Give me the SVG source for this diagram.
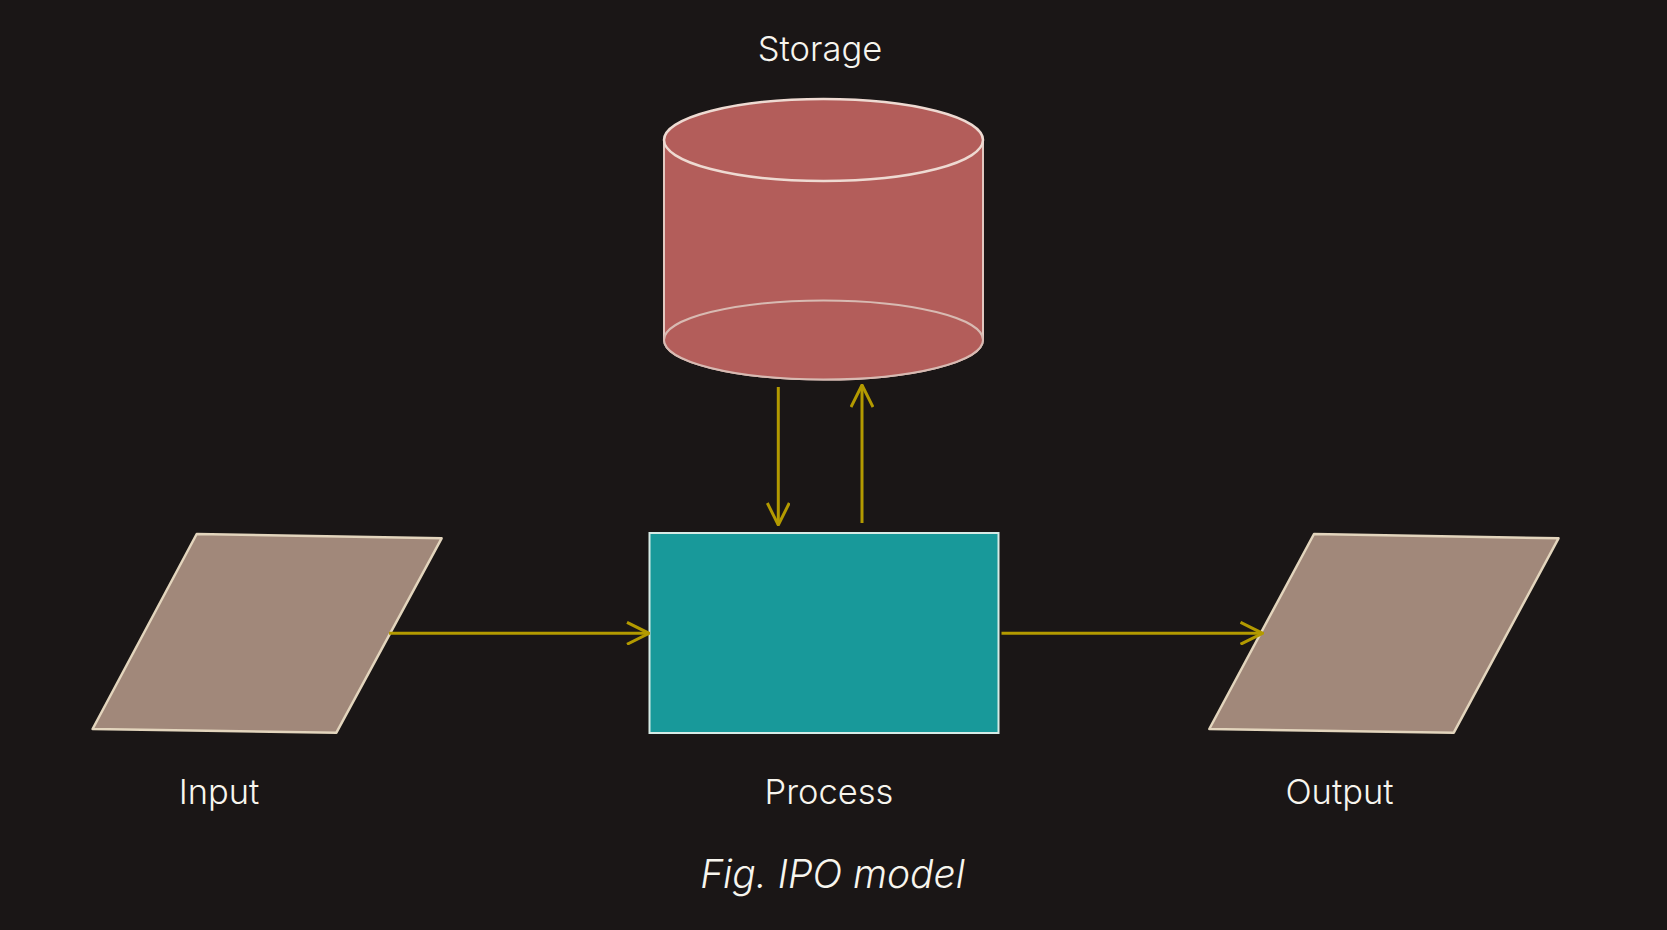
<svg xmlns="http://www.w3.org/2000/svg" width="1667" height="930" viewBox="0 0 1667 930">
<defs>
<style>
.lbl{font-family:Inter,"Noto Sans","Liberation Sans",sans-serif;font-size:34.5px;font-weight:300;fill:#f7f5ee;text-anchor:middle}
.cap{font-family:Inter,"Noto Sans","Liberation Sans",sans-serif;font-size:39px;font-weight:300;font-style:italic;fill:#f7f5ee;text-anchor:middle}
.para{fill:#a1887a;stroke:#e3d5bd;stroke-width:2.5;stroke-linejoin:round}
.conn{stroke:#b39a00;stroke-width:3;fill:none}
</style>
<marker id="ah" viewBox="0 0 24 24" refX="23" refY="12" markerWidth="24" markerHeight="24" markerUnits="userSpaceOnUse" orient="auto">
<path d="M1,1 L23,12 L1,23" fill="none" stroke="#b39a00" stroke-width="3"/>
</marker>
</defs>
<rect width="1667" height="930" fill="#1a1616"/>
<g id="storage">
<path d="M664,140 V340 A159.5,39.5 0 0 0 983,340 V140 Z" fill="#b35d5a" stroke="#e2c8c0" stroke-width="2"/>
<ellipse cx="823.5" cy="340" rx="159.5" ry="39.5" fill="#b35d5a" stroke="#d8bab2" stroke-width="2"/>
<ellipse cx="823.5" cy="140" rx="159.5" ry="41" fill="#b35d5a" stroke="#eedad2" stroke-width="2.5"/>
<text class="lbl" x="820" y="61">Storage</text>
</g>
<g id="input">
<polygon class="para" points="196.7,534 441.6,538.3 336.4,732.7 92.6,729"/>
<text class="lbl" x="219" y="804">Input</text>
</g>
<g id="process">
<rect x="649.5" y="533" width="349" height="200" fill="#18999a" stroke="#d6ebe6" stroke-width="2"/>
<text class="lbl" x="829" y="804">Process</text>
</g>
<g id="output">
<polygon class="para" points="1314,534 1558.5,538.3 1453.8,732.7 1209.3,729"/>
<text class="lbl" x="1339.5" y="804">Output</text>
</g>
<g id="connectors">
<line class="conn" x1="389" y1="633.3" x2="649" y2="633.3" marker-end="url(#ah)"/>
<line class="conn" x1="1001.5" y1="633.3" x2="1262.5" y2="633.3" marker-end="url(#ah)"/>
<line class="conn" x1="778.3" y1="387" x2="778.3" y2="525" marker-end="url(#ah)"/>
<line class="conn" x1="862" y1="523" x2="862" y2="385" marker-end="url(#ah)"/>
</g>
<text class="cap" x="832.5" y="888">Fig. IPO model</text>
</svg>
